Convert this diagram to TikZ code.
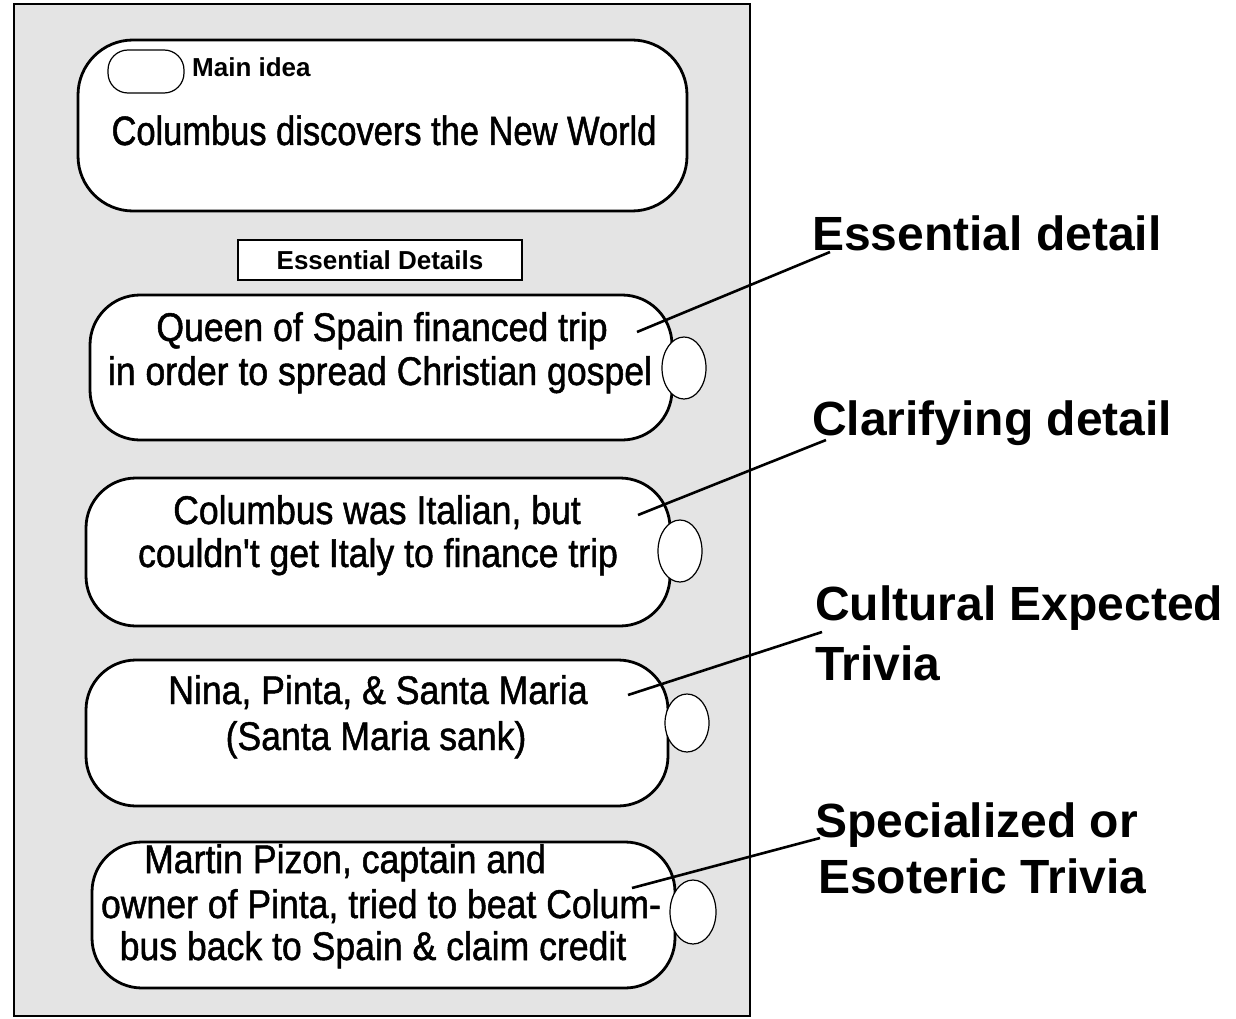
\documentclass[tikz,border=0pt]{standalone}
\usepackage{fontspec}
\setmainfont{Liberation Sans}
\newfontfamily\condfont[FakeStretch=0.89,FakeBold=1.2]{Liberation Sans}
\newfontfamily\narrowfont[FakeStretch=0.84,FakeBold=1.2]{Liberation Sans}
\usetikzlibrary{shapes.geometric}
\definecolor{bggray}{RGB}{228,228,228}
\begin{document}
\begin{tikzpicture}[x=1pt,y=-1pt,
  panel/.style={draw=black, line width=1.6pt, fill=bggray},
  bubble/.style={draw=black, line width=2.8pt, fill=white, rounded corners=50pt, inner sep=0pt},
  tag/.style={draw=black, line width=1.2pt, fill=white, ellipse, inner sep=0pt},
  body/.style={anchor=base, inner sep=0pt, font=\condfont\fontsize{40}{48}\selectfont},
  lbl/.style={anchor=base west, inner sep=0pt, font=\bfseries\fontsize{48}{56}\selectfont},
  pointer/.style={draw=black, line width=2.6pt}
]
\useasboundingbox (0,0) rectangle (1236,1019);
\fill[white] (0,0) rectangle (1236,1019);
\draw[panel] (14,4) rectangle (750,1016);

% main idea box
\node[bubble, minimum width=609pt, minimum height=171pt, rounded corners=55pt] (main) at (382.5,125.5) {};
\node[draw=black, line width=1.2pt, fill=white, rounded corners=20pt, inner sep=0pt,
      minimum width=76pt, minimum height=43pt] (mo) at (146,71.5) {};
\node[anchor=base west, inner sep=0pt, font=\bfseries\fontsize{26}{30}\selectfont] (mt) at (192,77) {Main idea};
\node[body, font=\narrowfont\fontsize{41}{48}\selectfont] (mtxt) at (384,145) {Columbus discovers the New World};

% essential details header
\node[draw=black, line width=1.2pt, fill=white, minimum width=284pt, minimum height=40pt, inner sep=0pt,
      font=\bfseries\fontsize{26}{30}\selectfont] (hdr) at (380,260) {Essential Details};

% detail boxes
\node[bubble, minimum width=582pt, minimum height=145pt] (b1) at (381,367.5) {};
\node[bubble, minimum width=584pt, minimum height=148pt] (b2) at (378,552) {};
\node[bubble, minimum width=582pt, minimum height=146pt] (b3) at (377,733) {};
\node[bubble, minimum width=583pt, minimum height=146pt] (b4) at (383.5,915) {};

\node[tag, minimum width=44pt, minimum height=62pt] (c1) at (684,368) {};
\node[tag, minimum width=44pt, minimum height=62pt] (c2) at (680,551) {};
\node[tag, minimum width=44pt, minimum height=58pt] (c3) at (687,723) {};
\node[tag, minimum width=46pt, minimum height=64pt] (c4) at (693,912) {};

\node[body] (t1a) at (382,341) {Queen of Spain financed trip};
\node[body] (t1b) at (380,385) {in order to spread Christian gospel};
\node[body] (t2a) at (377,524) {Columbus was Italian, but};
\node[body] (t2b) at (378,567) {couldn't get Italy to finance trip};
\node[body] (t3a) at (378,704) {Nina, Pinta, \& Santa Maria};
\node[body] (t3b) at (376,750) {(Santa Maria sank)};
\node[body] (t4a) at (345,873) {Martin Pizon, captain and};
\node[body] (t4b) at (381,918) {owner of Pinta, tried to beat Colum-};
\node[body] (t4c) at (373,960) {bus back to Spain \& claim credit};

% labels
\node[lbl] (l1) at (812,250) {Essential detail};
\node[lbl] (l2) at (812,435) {Clarifying detail};
\node[lbl] (l3a) at (815,620) {Cultural Expected};
\node[lbl] (l3b) at (815,680) {Trivia};
\node[lbl] (l4a) at (815,837) {Specialized or};
\node[lbl] (l4b) at (818,893) {Esoteric Trivia};

% pointers
\coordinate (p1) at (637,332);
\coordinate (p2) at (638,515);
\coordinate (p3) at (628,695);
\coordinate (p4) at (632,888);
\draw[pointer] (p1) -- ([xshift=18pt,yshift=-2pt]l1.base west);
\draw[pointer] (p2) -- ([xshift=14pt,yshift=-5pt]l2.base west);
\draw[pointer] (p3) -- ([xshift=7pt,yshift=-12pt]l3a.base west);
\draw[pointer] (p4) -- ([xshift=5pt,yshift=-1pt]l4a.base west);
\end{tikzpicture}
\end{document}
